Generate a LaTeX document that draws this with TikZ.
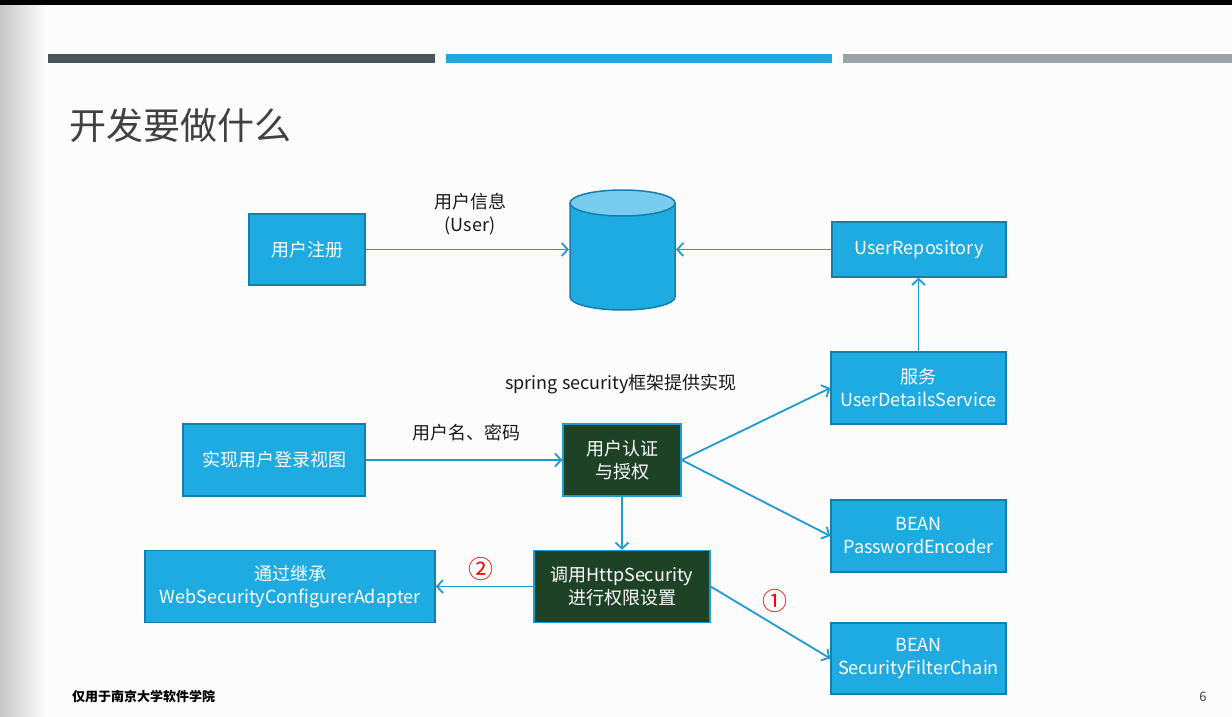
\documentclass[tikz,border=0pt]{standalone}
\usepackage{fontspec}
\setmainfont{Noto Sans CJK SC}
\usetikzlibrary{arrows.meta}
\definecolor{boxfill}{HTML}{1EABE1}
\definecolor{boxborder}{HTML}{137FAE}
\definecolor{arrowblue}{HTML}{1F9BD1}
\definecolor{darkgreen}{HTML}{1E4226}
\definecolor{cyltop}{HTML}{78CDEE}
\definecolor{barA}{HTML}{48535A}
\definecolor{barB}{HTML}{1FA9E0}
\definecolor{barC}{HTML}{9AA3A8}
\definecolor{titlegray}{HTML}{404040}
\definecolor{labelblack}{HTML}{1A1A1A}
\tikzset{
  box/.style={draw=boxborder, fill=boxfill, line width=1.5pt, text=white, align=center,
    inner sep=0pt, font=\fontsize{18}{23}\selectfont},
  dbox/.style={box, fill=darkgreen, draw=arrowblue},
  arr/.style={draw=arrowblue, line width=1.8pt, -{Straight Barb[length=6pt,width=13pt,line width=1.8pt]}},
  lbl/.style={text=labelblack, align=center, inner sep=0pt, font=\fontsize{18}{23}\selectfont},
  num/.style={text=red, inner sep=0pt, font=\fontsize{25}{28}\selectfont},
}
\begin{document}
\begin{tikzpicture}[x=1pt,y=-1pt]
\useasboundingbox (0,0) rectangle (1232,717);
\fill[white!99!black] (0,0) rectangle (1232,717);
\shade[left color=black!22, right color=white!99!black] (0,0) rectangle (46,717);
\fill[black] (0,0) rectangle (1232,5);
% header bars
\fill[barA] (48,54) rectangle (435,63);
\fill[barB] (446,54) rectangle (832,63);
\fill[barC] (843,54) rectangle (1232,63);
% title
\node[anchor=west, inner sep=0pt, text=titlegray, font=\fontsize{37}{40}\selectfont] (title) at (69,125) {开发要做什么};
% boxes
\node[box, minimum width=116, minimum height=71] (reg) at (307,249.5) {用户注册};
\node[box, minimum width=174, minimum height=55] (repo) at (919,249.5) {UserRepository};
\node[box, minimum width=175, minimum height=72] (uds) at (918.5,388) {服务\\UserDetailsService};
\node[box, minimum width=182, minimum height=72] (login) at (274,460) {实现用户登录视图};
\node[dbox, minimum width=118, minimum height=72] (auth) at (622,460) {用户认证\\与授权};
\node[box, minimum width=175, minimum height=72] (pe) at (918.5,536) {BEAN\\PasswordEncoder};
\node[dbox, minimum width=176, minimum height=72] (http) at (622,586.5) {调用HttpSecurity\\进行权限设置};
\node[box, minimum width=290, minimum height=72] (wsca) at (290,586.5) {通过继承\\WebSecurityConfigurerAdapter};
\node[box, minimum width=175, minimum height=71] (sfc) at (918.5,658.5) {BEAN\\SecurityFilterChain};
% database cylinder
\node[minimum width=105, minimum height=118, inner sep=0pt, outer sep=1pt] (db) at (622.5,249) {};
\path[fill=boxfill, draw=boxborder, line width=1.5pt] (570,203) -- (570,297)
  arc[start angle=180, end angle=360, x radius=52.5pt, y radius=13pt] -- (675,203) -- cycle;
\draw[fill=cyltop, draw=boxborder, line width=1.5pt] (622.5,203) ellipse[x radius=52.5pt, y radius=13pt];
% labels
\node[lbl] (l1) at (470,214) {用户信息\\(User)};
\node[lbl] (l2) at (466,433) {用户名、密码};
\node[lbl] (l3) at (621,384) {spring security框架提供实现};
\node[num] (n2) at (481,569) {②};
\node[num] (n1) at (775,601) {①};
% connectors
\draw[arr] (reg.east) -- (reg.east -| db.west);
\draw[arr] (repo.west) -- (repo.west -| db.east);
\draw[arr] (uds.north) -- (uds.north |- repo.south);
\draw[arr] (login.east) -- (login.east -| auth.west);
\draw[arr] (auth.east) -- (uds.west);
\draw[arr] (auth.east) -- (pe.west);
\draw[arr] (auth.south) -- (http.north);
\draw[arr] (http.west) -- (http.west -| wsca.east);
\draw[arr] (http.east) -- (sfc.west);
% footer
\node[anchor=west, inner sep=0pt, font=\fontsize{13}{15}\selectfont\bfseries] (foot) at (72,697) {仅用于南京大学软件学院};
\node[inner sep=0pt, text=titlegray, font=\fontsize{13}{15}\selectfont] (page) at (1203,697) {6};
\end{tikzpicture}
\end{document}
